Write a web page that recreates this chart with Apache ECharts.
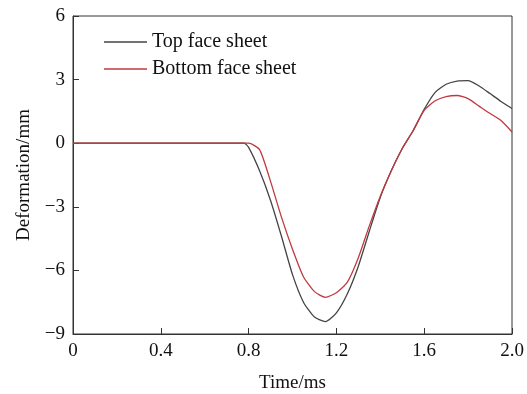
<!DOCTYPE html>
<html><head><meta charset="utf-8">
<script src="https://cdn.jsdelivr.net/npm/echarts@6/dist/echarts.min.js"></script>
<style>html,body{margin:0;padding:0;background:#fff}#c{width:527px;height:394px}</style>
</head><body><div id="c"></div>
<script>
var timeMs = [0,0.05,0.1,0.15,0.2,0.25,0.3,0.35,0.4,0.45,0.5,0.55,0.6,0.65,0.7,0.75,0.78,0.8,0.85,0.9,0.95,1.0,1.05,1.1,1.15,1.2,1.25,1.3,1.35,1.4,1.45,1.5,1.55,1.6,1.65,1.7,1.75,1.8,1.85,1.9,1.95,2.0];
var topFace = [0,0,0,0,0,0,0,0,0,0,0,0,0,0,0,0,0,-0.2,-1.3,-2.7,-4.4,-6.2,-7.5,-8.2,-8.42,-8.0,-7.1,-5.8,-4.15,-2.55,-1.3,-0.25,0.6,1.6,2.4,2.78,2.93,2.95,2.7,2.34,1.97,1.64];
var bottomFace = [0,0,0,0,0,0,0,0,0,0,0,0,0,0,0,0,0,0,-0.3,-1.8,-3.5,-5.0,-6.3,-7.0,-7.27,-7.05,-6.55,-5.4,-3.9,-2.5,-1.3,-0.25,0.6,1.55,2.0,2.2,2.25,2.1,1.75,1.4,1.07,0.53];
var seriesNames = ['Top face sheet','Bottom face sheet'];
var xTicks = [0,0.4,0.8,1.2,1.6,2.0];
var yTicks = [-9,-6,-3,0,3,6];

function pairs(v){return timeMs.map(function(t,i){return [t,v[i]];});}
var font = 'Liberation Serif';
var colTop = '#444', colBot = '#c0393f';
var chart = echarts.init(document.getElementById('c'));
chart.setOption({
  animation:false,
  grid:{left:73,right:15,top:16,bottom:60,show:true,borderColor:'#333',borderWidth:1,outerBoundsMode:'none',containLabel:false},
  legend:{left:99,top:27,orient:'vertical',itemWidth:43,itemHeight:1.5,itemGap:7,
    icon:'rect',
    textStyle:{fontFamily:font,fontSize:20,color:'#111'},
    data:[{name:seriesNames[0]},{name:seriesNames[1]}]},
  xAxis:{type:'value',min:0,max:2,interval:0.4,
    name:'Time/ms',nameLocation:'middle',nameGap:40,
    nameTextStyle:{fontFamily:font,fontSize:19,color:'#111'},
    axisLine:{onZero:false,lineStyle:{color:'#333'}},
    axisTick:{inside:true,length:6,lineStyle:{color:'#333'}},
    splitLine:{show:false},
    axisLabel:{fontFamily:font,fontSize:19,color:'#111',margin:8,
      formatter:function(v){return v===0?'0':v.toFixed(1);}}},
  yAxis:{type:'value',min:-9,max:6,interval:3,
    name:'Deformation/mm',nameLocation:'middle',nameGap:39,
    nameTextStyle:{fontFamily:font,fontSize:19,color:'#111'},
    axisLine:{show:true,onZero:false,lineStyle:{color:'#333'}},
    axisTick:{show:true,inside:true,length:6,lineStyle:{color:'#333'}},
    splitLine:{show:false},
    axisLabel:{fontFamily:font,fontSize:19,color:'#111',margin:8,
      formatter:function(v){return v<0?'\u2212'+(-v):String(v);}}},
  series:[
    {name:seriesNames[0],type:'line',data:pairs(topFace),showSymbol:false,smooth:0.2,
      lineStyle:{color:colTop,width:1.3},itemStyle:{color:colTop}},
    {name:seriesNames[1],type:'line',data:pairs(bottomFace),showSymbol:false,smooth:0.2,
      lineStyle:{color:colBot,width:1.3},itemStyle:{color:colBot}}
  ]
});
</script></body></html>
